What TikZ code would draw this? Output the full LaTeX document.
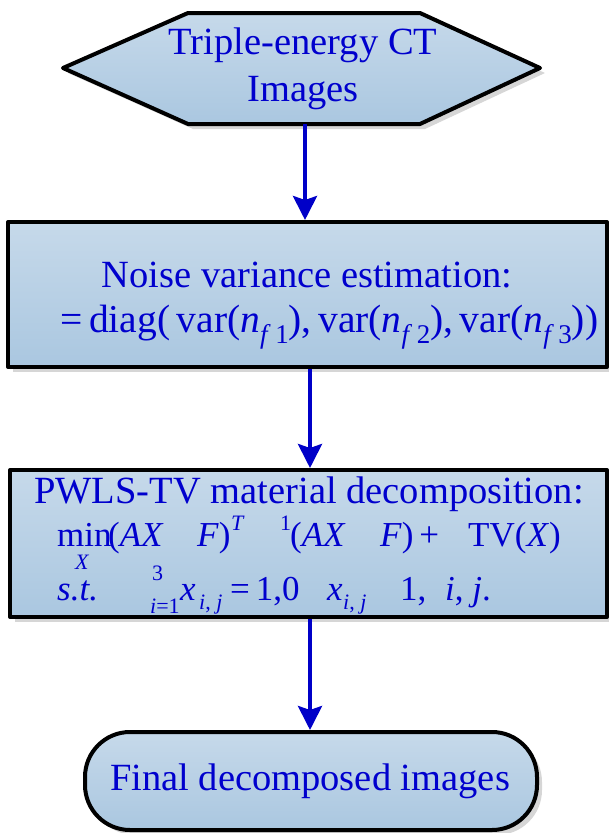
\documentclass[tikz,border=0pt]{standalone}
\usepackage{fontspec}
\setmainfont{Liberation Serif}
\usetikzlibrary{arrows.meta,shadows}
\definecolor{tblue}{RGB}{0,0,205}
\definecolor{ablue}{RGB}{0,0,200}
\definecolor{ftop}{RGB}{198,217,234}
\definecolor{fbot}{RGB}{170,199,224}
\definecolor{shad}{RGB}{214,214,214}
\newcommand{\lsub}[1]{\raisebox{-11pt}{\fontsize{27}{30}\selectfont #1}}
\begin{document}
\begin{tikzpicture}[x=1pt,y=-1pt,
  txt/.style={text=tblue, font=\fontsize{38.5}{46}\selectfont, inner sep=0pt, anchor=base},
  fx/.style={text=tblue, font=\fontsize{35}{40}\selectfont, inner sep=0pt, anchor=base west},
  sx/.style={text=tblue, font=\fontsize{22}{24}\selectfont, inner sep=0pt, anchor=base west},
  gx/.style={text=tblue, font=\fontsize{39.5}{44}\selectfont, inner sep=0pt, anchor=base west},
  shapest/.style={draw=black, line width=4pt, line join=round, top color=ftop, bottom color=fbot,
    drop shadow={shadow xshift=5pt, shadow yshift=-5pt, fill=shad, opacity=1}},
  boxst/.style={shapest, inner sep=0pt},
  arr/.style={draw=ablue, line width=4pt, -{Stealth[length=24pt,width=24pt,inset=4pt]}}]
\useasboundingbox (0,0) rectangle (609,833);
% hexagon
\path[shapest] (63,68) -- (188,13) -- (420,13) -- (540,68) -- (420,124) -- (188,124) -- cycle;
\node[inner sep=0pt, minimum width=476pt, minimum height=111pt] (hex) at (305,68.5) {};
\node[txt] (hexa) at (303,54) {Triple-energy CT};
\node[txt] (hexb) at (303,101) {Images};
% box 2
\node[boxst, minimum width=599pt, minimum height=145pt] (box2) at (307.5,294.5) {};
\node[txt] (b2a) at (307,287) {Noise variance estimation:};
\node[gx] (b2eq) at (60,332) {=\,diag(\,var(\textit{n}\lsub{\textit{f}\,1}),\,var(\textit{n}\lsub{\textit{f}\,2}),\,var(\textit{n}\lsub{\textit{f}\,3}))};
% box 3
\node[boxst, minimum width=597pt, minimum height=147pt] (box3) at (308.5,543.5) {};
\node[txt] (b3a) at (309,503) {PWLS-TV material decomposition:};
\node[fx] (m1) at (57,546) {min};
\node[sx] (m1x) at (75,569) {\textit{X}};
\node[fx] (m2) at (108,546) {(\textit{AX}};
\node[fx] (m3) at (197,546) {\textit{F})};
\node[sx] (m3t) at (231,530) {\textit{T}};
\node[sx] (m4s) at (280,530) {1};
\node[fx] (m4) at (290,546) {(\textit{AX}};
\node[fx] (m5) at (380,546) {\textit{F})\,+};
\node[fx] (m6) at (468,546) {TV(\textit{X})};
\node[fx] (n1) at (57,600) {\textit{s.t.}};
\node[sx] (n2u) at (152,580) {3};
\node[sx] (n2l) at (150,613) {\textit{i}=1};
\node[fx] (n3) at (180,600) {\textit{x}};
\node[sx] (n3s) at (199,609) {\textit{i}, \textit{j}};
\node[fx] (n4) at (230,600) {=\,1,0};
\node[fx] (n5) at (327,600) {\textit{x}};
\node[sx] (n5s) at (343,609) {\textit{i}, \textit{j}};
\node[fx] (n6) at (400,600) {1,};
\node[fx] (n7) at (445,600) {\textit{i}, \textit{j}.};
% final
\node[boxst, rounded corners=45pt, minimum width=452pt, minimum height=98pt] (fin) at (311,781) {};
\node[txt] (fint) at (310,790) {Final decomposed images};
% arrows
\draw[arr] (hex.south) -- (hex.south |- box2.north);
\draw[arr] ([xshift=2.5pt]box2.south) -- ([xshift=2.5pt]box2.south |- box3.north);
\draw[arr] ([xshift=1.5pt]box3.south) -- ([xshift=1.5pt]box3.south |- fin.north);
\end{tikzpicture}
\end{document}
